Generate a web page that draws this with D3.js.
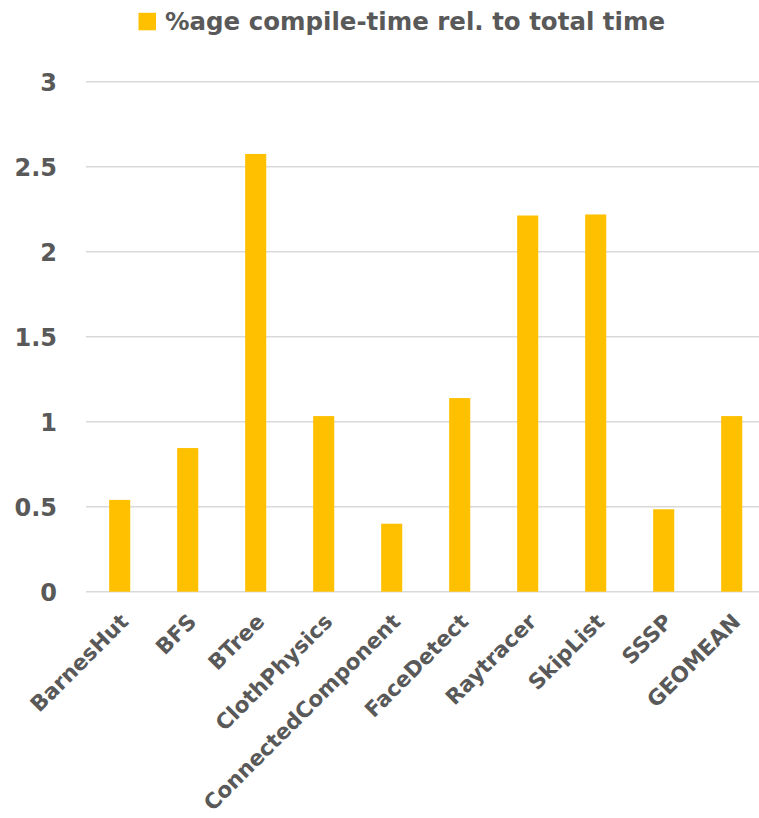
<!DOCTYPE html>
<html>
<head>
<meta charset="utf-8">
<script src="https://cdn.jsdelivr.net/npm/d3@7"></script>
<style>
  html, body { margin: 0; padding: 0; background: #fff; }
  svg { display: block; }
  text { font-family: "DejaVu Sans", "Noto Sans", sans-serif; font-weight: bold; fill: #595959; }
</style>
</head>
<body>
<svg id="chart" width="759" height="818"></svg>
<script>
const categories = ["BarnesHut", "BFS", "BTree", "ClothPhysics", "ConnectedComponent", "FaceDetect", "Raytracer", "SkipList", "SSSP", "GEOMEAN"];
const seriesName = "%age compile-time rel. to total time";
const values = [0.54, 0.845, 2.575, 1.033, 0.40, 1.139, 2.213, 2.219, 0.485, 1.033];
const yTicks = [0, 0.5, 1, 1.5, 2, 2.5, 3];

const svg = d3.select("#chart");
const barColor = "#FFC000";

const x = d3.scaleBand()
  .domain(categories)
  .range([85.7, 765.7])
  .paddingInner(0.69)
  .paddingOuter(0.345);

const y = d3.scaleLinear().domain([0, 3]).range([591.7, 81.7]);

// gridlines
svg.append("g").selectAll("line")
  .data(yTicks)
  .join("line")
  .attr("x1", 86).attr("x2", 766)
  .attr("y1", d => y(d)).attr("y2", d => y(d))
  .attr("stroke", "#d9d9d9").attr("stroke-width", 1.5);

// y tick labels
const yAxis = d3.axisLeft(y).tickValues(yTicks).tickSize(0).tickPadding(0).tickFormat(d3.format("~g"));
const gy = svg.append("g").attr("transform", "translate(57,0)").call(yAxis);
gy.select(".domain").remove();
gy.selectAll("text").attr("font-size", 24).attr("fill", "#595959")
  .style("font-family", '"DejaVu Sans", sans-serif').style("font-weight", "bold")
  .attr("dy", "0.35em");

// bars
svg.append("g").selectAll("rect")
  .data(values)
  .join("rect")
  .attr("x", (d, i) => x(categories[i]))
  .attr("width", x.bandwidth())
  .attr("y", d => y(d))
  .attr("height", d => y(0) - y(d))
  .attr("fill", barColor);

// x labels
const xAxis = d3.axisBottom(x).tickSize(0).tickPadding(0);
const gx = svg.append("g").call(xAxis);
gx.select(".domain").remove();
gx.selectAll(".tick").attr("transform", d => `translate(${x(d) + x.bandwidth() / 2 + 10},623)`);
gx.selectAll("text")
  .attr("y", 0).attr("dy", 0)
  .attr("font-size", 21.5)
  .attr("fill", "#595959")
  .style("font-family", '"DejaVu Sans", sans-serif').style("font-weight", "bold")
  .attr("text-anchor", "end")
  .attr("transform", "rotate(-45)");

// legend
const legend = svg.append("g");
legend.append("rect").attr("x", 138.5).attr("y", 12.8).attr("width", 17.5).attr("height", 17.5).attr("fill", barColor);
legend.append("text").attr("x", 165).attr("y", 30).attr("font-size", 24)
  .attr("textLength", 500).attr("lengthAdjust", "spacingAndGlyphs").text(seriesName);
</script>
</body>
</html>
